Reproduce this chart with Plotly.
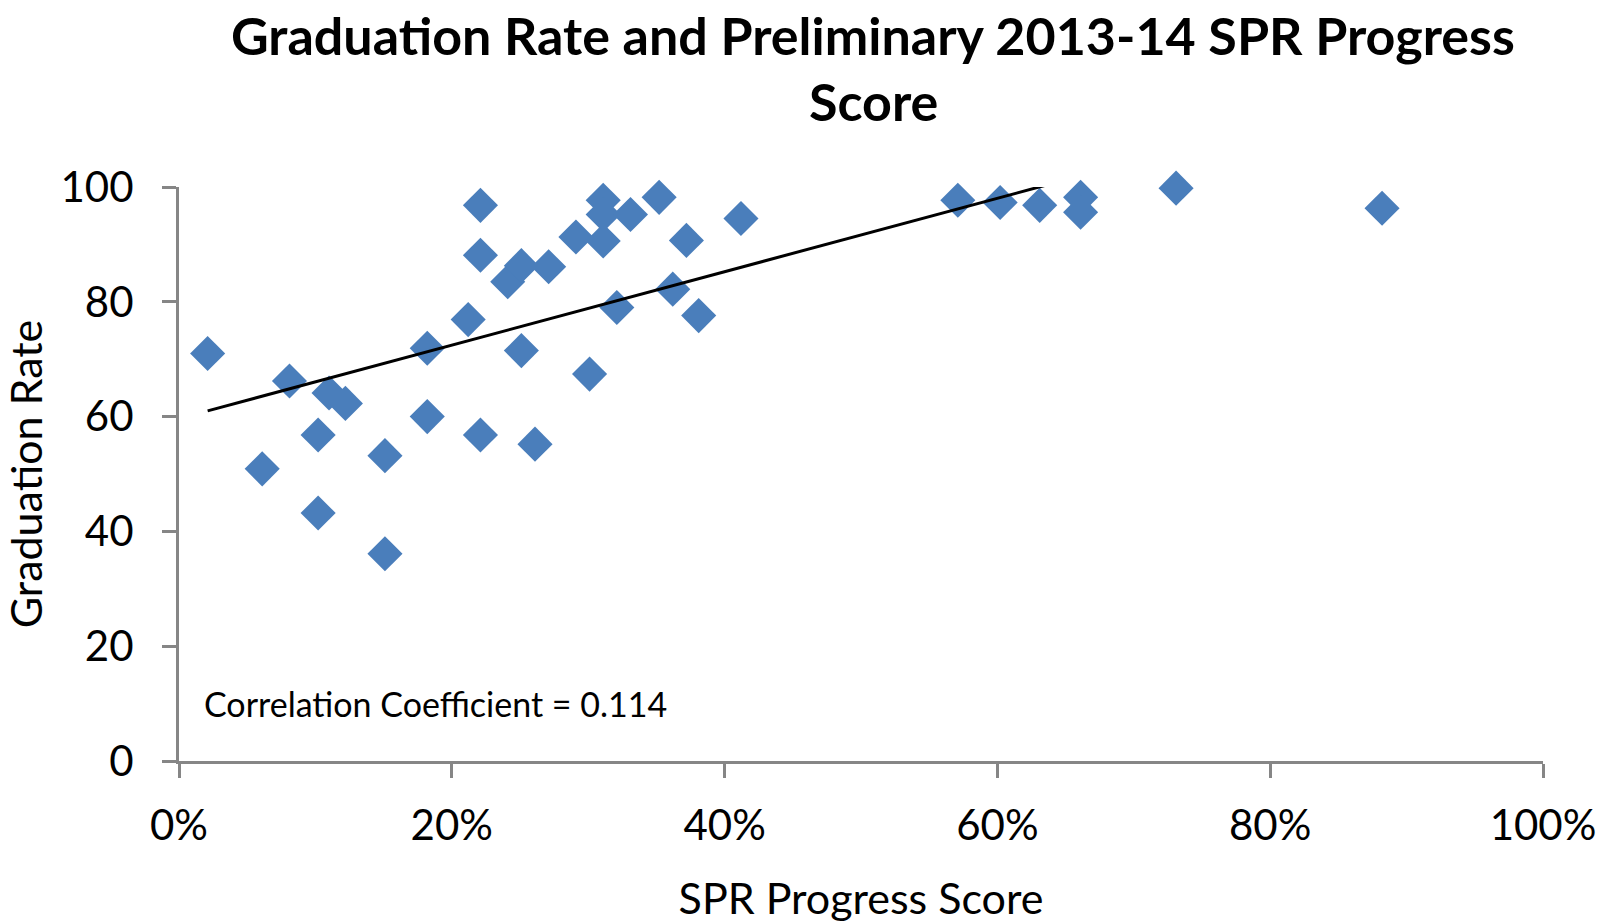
import numpy as np
import plotly.graph_objects as go

# SPR progress score (fraction) and graduation rate
spr_score = [0.021, 0.061, 0.081, 0.102, 0.102, 0.110, 0.122, 0.151, 0.151, 0.182,
             0.182, 0.212, 0.221, 0.221, 0.221, 0.241, 0.251, 0.251, 0.261, 0.271,
             0.291, 0.301, 0.311, 0.311, 0.311, 0.321, 0.331, 0.352, 0.362, 0.372,
             0.381, 0.412, 0.571, 0.602, 0.631, 0.661, 0.661, 0.731, 0.882]
grad_rate = [71.0, 50.9, 66.2, 56.8, 43.2, 64.1, 62.3, 53.2, 36.1, 71.9,
             60.0, 76.9, 96.8, 88.1, 56.8, 83.5, 86.3, 71.5, 55.2, 86.1,
             91.3, 67.4, 97.7, 95.2, 90.6, 79.0, 95.2, 98.2, 82.2, 90.7,
             77.6, 94.5, 97.7, 97.3, 96.8, 98.2, 95.6, 99.8, 96.3]

# trend line endpoints (clipped by the axis at 100)
trend_x = [0.021, 0.64]
trend_y = [61.0, 100.6]

x_ticks = [0, 0.2, 0.4, 0.6, 0.8, 1.0]
x_tick_labels = ["0%", "20%", "40%", "60%", "80%", "100%"]
y_ticks = [0, 20, 40, 60, 80, 100]

title_lines = ["Graduation Rate and Preliminary 2013-14 SPR Progress", "Score"]

FONT = "Lato"
AXIS_COLOR = "#868686"

L, R, T, B = 179, 59, 187, 162
W, H = 1602, 923
PH = H - T - B
PW = W - L - R

fig = go.Figure()
fig.add_trace(go.Scatter(
    x=spr_score, y=grad_rate, mode="markers",
    marker=dict(symbol="diamond", size=27, color="#4A7EBB", line=dict(width=0)),
    showlegend=False, hoverinfo="x+y", cliponaxis=False))
fig.add_trace(go.Scatter(
    x=trend_x, y=trend_y, mode="lines",
    line=dict(color="black", width=3), showlegend=False, hoverinfo="skip"))

annotations = [dict(
    x=0.0165, y=10.1, xref="x", yref="y", xanchor="left", yanchor="middle",
    text="Correlation Coefficient = 0.114", showarrow=False,
    font=dict(family=FONT, size=34, color="black"))]

title_centers_px = [35, 101]  # vertical centres of the title lines from the top
for line, cy in zip(title_lines, title_centers_px):
    annotations.append(dict(
        x=(873 - L) / PW, y=1 + (T - cy) / PH, xref="paper", yref="paper",
        xanchor="center", yanchor="middle", showarrow=False,
        text="<b>" + line + "</b>",
        font=dict(family=FONT, size=52, color="black")))

fig.update_layout(
    width=W, height=H,
    paper_bgcolor="white", plot_bgcolor="white",
    margin=dict(l=L, r=R, t=T, b=B, autoexpand=False),
    font=dict(family=FONT, color="black"),
    xaxis=dict(
        range=[0, 1], tickvals=x_ticks, ticktext=x_tick_labels,
        showgrid=False, zeroline=False, automargin=False,
        showline=True, linecolor=AXIS_COLOR, linewidth=3,
        ticks="outside", ticklen=14, tickwidth=3, tickcolor=AXIS_COLOR,
        tickfont=dict(family=FONT, size=42, color="black"),
        ticklabelstandoff=12,
        title=dict(text="SPR Progress Score", font=dict(family=FONT, size=43, color="black"),
                   standoff=36),
        fixedrange=True),
    yaxis=dict(
        range=[0, 100], tickvals=y_ticks,
        showgrid=False, zeroline=False, automargin=False,
        showline=True, linecolor=AXIS_COLOR, linewidth=3,
        ticks="outside", ticklen=14, tickwidth=3, tickcolor=AXIS_COLOR,
        tickfont=dict(family=FONT, size=42, color="black"),
        ticklabelstandoff=20,
        title=dict(text="Graduation Rate", font=dict(family=FONT, size=43, color="black"),
                   standoff=25),
        fixedrange=True),
    annotations=annotations,
)

fig.write_html("out.html", config={"displayModeBar": False},
               post_script="document.body.style.margin='0';")
